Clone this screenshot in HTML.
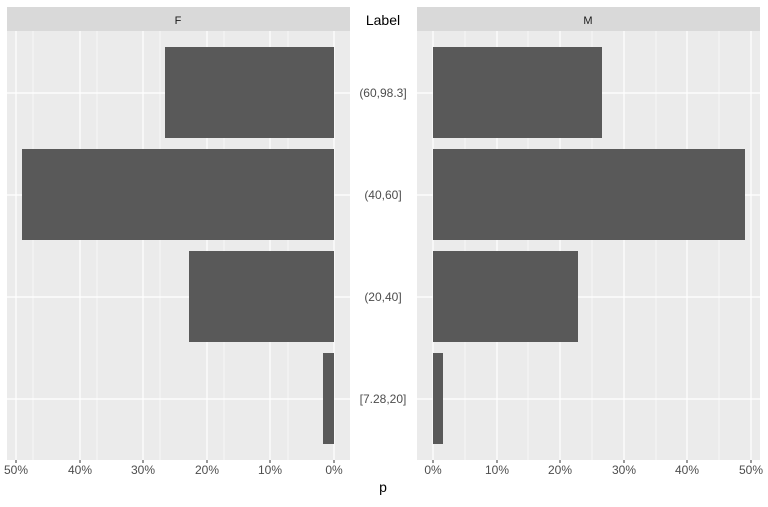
<!DOCTYPE html>
<html><head><meta charset="utf-8"><style>body{margin:0;background:#fff}</style></head><body>
<svg width="768" height="502" xmlns="http://www.w3.org/2000/svg" font-family="Liberation Sans, sans-serif">
<rect width="768" height="502" fill="#fff"/>
<rect x="7" y="7" width="343" height="24" fill="#d9d9d9"/>
<rect x="417" y="7" width="343" height="24" fill="#d9d9d9"/>
<text x="178" y="24" font-size="11" fill="#1a1a1a" text-anchor="middle">F</text>
<text x="588" y="24" font-size="11" fill="#1a1a1a" text-anchor="middle">M</text>
<text x="383" y="25" font-size="14" fill="#000" text-anchor="middle">Label</text>
<rect x="7" y="31" width="343" height="429" fill="#ebebeb"/>
<rect x="417" y="31" width="343" height="429" fill="#ebebeb"/>
<g stroke="#fff">
<g stroke-width="0.6">
<line x1="33" y1="31" x2="33" y2="460"/><line x1="97" y1="31" x2="97" y2="460"/><line x1="160" y1="31" x2="160" y2="460"/><line x1="224" y1="31" x2="224" y2="460"/><line x1="288" y1="31" x2="288" y2="460"/>
<line x1="465" y1="31" x2="465" y2="460"/><line x1="528" y1="31" x2="528" y2="460"/><line x1="592" y1="31" x2="592" y2="460"/><line x1="656" y1="31" x2="656" y2="460"/><line x1="719" y1="31" x2="719" y2="460"/>
</g>
<g stroke-width="1.2">
<line x1="16" y1="31" x2="16" y2="460"/><line x1="80" y1="31" x2="80" y2="460"/><line x1="143" y1="31" x2="143" y2="460"/><line x1="207" y1="31" x2="207" y2="460"/><line x1="270" y1="31" x2="270" y2="460"/><line x1="334" y1="31" x2="334" y2="460"/>
<line x1="433" y1="31" x2="433" y2="460"/><line x1="497" y1="31" x2="497" y2="460"/><line x1="560" y1="31" x2="560" y2="460"/><line x1="624" y1="31" x2="624" y2="460"/><line x1="687" y1="31" x2="687" y2="460"/><line x1="751" y1="31" x2="751" y2="460"/>
<line x1="7" y1="93" x2="350" y2="93"/><line x1="7" y1="195" x2="350" y2="195"/><line x1="7" y1="297" x2="350" y2="297"/><line x1="7" y1="399" x2="350" y2="399"/>
<line x1="417" y1="93" x2="760" y2="93"/><line x1="417" y1="195" x2="760" y2="195"/><line x1="417" y1="297" x2="760" y2="297"/><line x1="417" y1="399" x2="760" y2="399"/>
</g></g>
<g fill="#595959">
<rect x="165" y="47" width="169" height="91"/>
<rect x="22" y="149" width="312" height="91"/>
<rect x="189" y="251" width="145" height="91"/>
<rect x="323" y="353" width="11" height="91"/>
<rect x="433" y="47" width="169" height="91"/>
<rect x="433" y="149" width="312" height="91"/>
<rect x="433" y="251" width="145" height="91"/>
<rect x="433" y="353" width="10" height="91"/>
</g>
<g stroke="#333" stroke-width="1">
<line x1="16" y1="460" x2="16" y2="463"/><line x1="80" y1="460" x2="80" y2="463"/><line x1="143" y1="460" x2="143" y2="463"/><line x1="207" y1="460" x2="207" y2="463"/><line x1="270" y1="460" x2="270" y2="463"/><line x1="334" y1="460" x2="334" y2="463"/>
<line x1="433" y1="460" x2="433" y2="463"/><line x1="497" y1="460" x2="497" y2="463"/><line x1="560" y1="460" x2="560" y2="463"/><line x1="624" y1="460" x2="624" y2="463"/><line x1="687" y1="460" x2="687" y2="463"/><line x1="751" y1="460" x2="751" y2="463"/>
</g>
<g font-size="12" fill="#4d4d4d" text-anchor="middle">
<text x="16" y="474">50%</text><text x="80" y="474">40%</text><text x="143" y="474">30%</text><text x="207" y="474">20%</text><text x="270" y="474">10%</text><text x="334" y="474">0%</text>
<text x="433" y="474">0%</text><text x="497" y="474">10%</text><text x="560" y="474">20%</text><text x="624" y="474">30%</text><text x="687" y="474">40%</text><text x="751" y="474">50%</text>
<text x="383" y="97">(60,98.3]</text><text x="383" y="199">(40,60]</text><text x="383" y="301">(20,40]</text><text x="383" y="403">[7.28,20]</text>
</g>
<text x="383" y="492" font-size="14" fill="#000" text-anchor="middle">p</text>
</svg>
</body></html>
